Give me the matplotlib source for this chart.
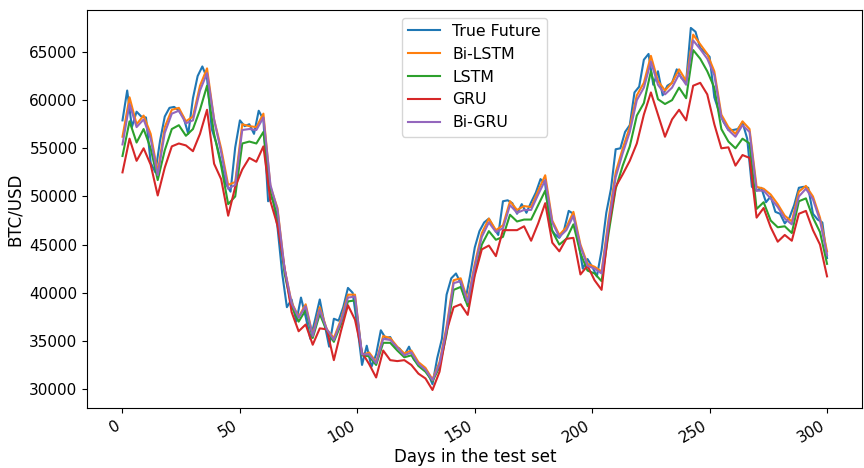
import matplotlib
matplotlib.use("Agg")
import matplotlib.pyplot as plt
import numpy as np

# True Future, read every 2 days (0..300)
true_days = np.arange(0, 301, 2)
true_future = [
    57900, 61000, 57200, 58800, 58300, 58200, 53500, 52500, 55800, 58300,
    59200, 59300, 58900, 58200, 56500, 60200, 62500, 63500, 62300, 57000,
    55500, 53500, 51300, 50500, 55100, 57900, 57300, 57500, 56500, 58900,
    58000, 49500, 49900, 46800, 42000, 38500, 39300, 37000, 39500, 37500,
    35200, 37200, 39300, 36800, 34400, 37300, 37100, 38500, 40500, 40000,
    36500, 32500, 34500, 32300, 33600, 36100, 35300, 35400, 34400, 34200,
    33500, 34400, 33100, 32500, 32200, 31700, 30500, 33200, 35200, 39800,
    41500, 42000, 41000, 39200, 41800, 44700, 46400, 47300, 47700, 46800,
    46000, 49500, 49600, 49300, 48200, 49200, 48300, 49400, 50400, 51800,
    51300, 46800, 46100, 45700, 46500, 48500, 48200, 45500, 42500, 43500,
    42700, 41700, 44400, 48300, 50800, 54900, 55000, 56700, 57400, 60800,
    61400, 64200, 64800, 61600, 63000, 60500, 61500, 61800, 63200, 62300,
    61900, 67500, 67100, 65400, 65000, 64500, 60300, 58800, 57700, 56900,
    56900, 57000, 57700, 56000, 51000, 50600, 50900, 49400, 50000, 48400,
    48200, 47200, 47800, 49100, 50900, 51000, 50900, 48200, 47600, 47300,
    43600,
]

# model predictions, read every 3 days (0..300)
pred_days = np.arange(0, 301, 3)
bi_lstm = [
    56200, 60300, 57500, 58400, 56500, 52500, 57200, 59000, 59200, 57800,
    58300, 61500, 63300, 58000, 55000, 51200, 51500, 57500, 57300, 57200,
    58600, 51000, 48800, 42500, 39000, 37500, 38800, 35600, 38500, 36200,
    35300, 37200, 39800, 39800, 33500, 33800, 32800, 35500, 35300, 34400,
    33700, 34000, 32800, 32200, 31000, 32800, 36500, 41300, 41500, 39200,
    43000, 46200, 47700, 46500, 47000, 49500, 48600, 49000, 48900, 50600,
    52200, 47500, 46000, 46800, 48400, 45000, 43000, 42700, 42200, 47700,
    52500, 55000, 57200, 60500, 61800, 64600, 62000, 61000, 61800, 63200,
    62000, 66800, 65800, 64800, 63000, 58500, 57200, 56500, 57800, 57000,
    51000, 50800, 50200, 49200, 48000, 47400, 50500, 51100, 50000, 47800,
    44300,
]
lstm = [
    54200, 57800, 55600, 57000, 55000, 51700, 54800, 57000, 57400, 56300,
    57000, 59000, 61500, 56500, 53200, 49200, 50000, 55500, 55700, 55500,
    56700, 50400, 47900, 42000, 38600, 37000, 38200, 35300, 37800, 36000,
    34900, 36700, 39100, 39200, 33500, 33400, 32500, 34800, 34800, 34000,
    33300, 33500, 32400, 31800, 30800, 32300, 35700, 40300, 40600, 38600,
    42000, 45000, 46400, 45500, 45800, 48100, 47400, 47600, 47600, 49100,
    50600, 46400, 45000, 45600, 47100, 44100, 42300, 42000, 41200, 46200,
    50800, 53200, 55200, 58400, 59700, 63000, 60100, 59600, 60000, 61300,
    60200, 65200, 64300, 63000, 61300, 57000, 55700, 55000, 56000, 55500,
    48700, 49400, 47500, 46800, 46900, 46200, 49500, 49800, 47800, 46300,
    43000,
]
gru = [
    52500, 56000, 53700, 55000, 53300, 50100, 53000, 55200, 55500, 55300,
    54700, 56500, 59000, 53400, 51800, 48000, 51000, 52800, 54000, 53600,
    55200, 49500, 47000, 42600, 38000, 36000, 36700, 34600, 36300, 36200,
    33000, 36000, 38700, 37200, 33800, 32600, 31200, 34000, 33000, 32900,
    33000, 32500, 31600, 31100, 29900, 31800, 36000, 38500, 38800, 37700,
    41800, 44500, 44900, 43800, 46500, 46500, 46500, 46900, 45400, 47200,
    49300, 45200, 44300, 45600, 45700, 41900, 42800, 41300, 40300, 46800,
    51000, 52300, 53700, 55500, 58500, 60800, 58500, 56200, 58000, 59000,
    57900, 61500, 61800, 60600, 57500, 55000, 55100, 53200, 54300, 54000,
    47800, 48800, 46800, 45300, 46000, 45400, 48200, 48500, 46500, 45000,
    41700,
]
bi_gru = [
    55400, 59600, 57200, 58000, 56000, 52200, 56600, 58600, 58900, 57600,
    57900, 61000, 62800, 58000, 54600, 50800, 51200, 56900, 57000, 56900,
    58200, 51200, 48600, 42500, 38900, 37400, 38600, 35500, 38200, 36200,
    35100, 37000, 39500, 39600, 33600, 33600, 32700, 35200, 35100, 34300,
    33500, 33800, 32600, 32000, 30900, 32600, 36200, 41000, 41200, 39000,
    42700, 45800, 47300, 46300, 46700, 49100, 48300, 48600, 48600, 50200,
    51700, 47300, 45800, 46500, 48000, 44800, 42800, 42500, 42000, 47200,
    52000, 54500, 56700, 60000, 61300, 64000, 61600, 60600, 61300, 62700,
    61600, 66200, 65300, 64300, 62600, 58200, 56900, 56200, 57400, 56700,
    50600, 50600, 49800, 48900, 47700, 47100, 50000, 50800, 49700, 47500,
    43900,
]

plt.rcParams["font.size"] = 12

fig, ax = plt.subplots(figsize=(8.64, 4.68), dpi=100)
ax.plot(true_days, true_future, label="True Future")
ax.plot(pred_days, bi_lstm, label="Bi-LSTM")
ax.plot(pred_days, lstm, label="LSTM")
ax.plot(pred_days, gru, label="GRU")
ax.plot(pred_days, bi_gru, label="Bi-GRU")

ax.set_xlabel("Days in the test set", fontsize=12, labelpad=2)
ax.set_ylabel("BTC/USD", fontsize=12)
ax.tick_params(labelsize=11)
ax.legend(loc="upper center", fontsize=11.3)
plt.setp(ax.get_xticklabels(), rotation=30, ha="right")

fig.subplots_adjust(left=0.101, right=0.998, top=0.979, bottom=0.128)
fig.savefig("out.png", dpi=100)
